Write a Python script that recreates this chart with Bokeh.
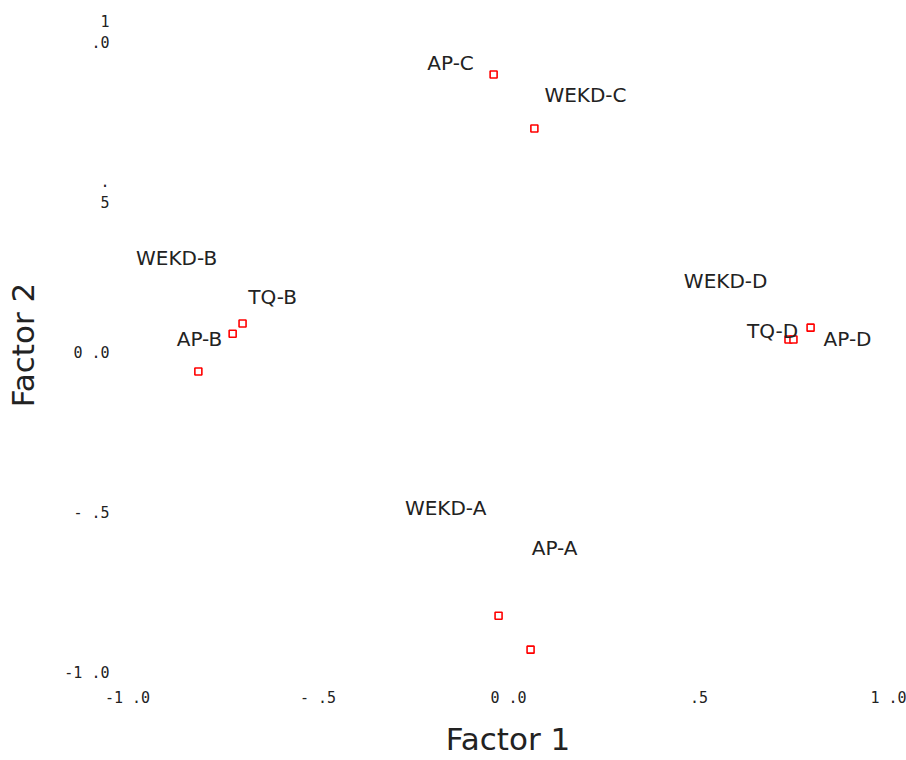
from bokeh.plotting import figure
from bokeh.models import ColumnDataSource, Range1d, FixedTicker
from bokeh.embed import file_html
from bokeh.resources import INLINE
from bokeh.core.properties import value

# Points (Factor 1, Factor 2)
names = ["AP-C", "WEKD-C", "TQ-B", "AP-B", "WEKD-B", "AP-D", "TQ-D", "WEKD-D", "WEKD-A", "AP-A"]
factor1 = [-0.039, 0.068, -0.698, -0.724, -0.814, 0.793, 0.735, 0.748, -0.026, 0.058]
factor2 = [0.869, 0.700, 0.091, 0.059, -0.059, 0.078, 0.041, 0.041, -0.822, -0.928]

# Label positions as they appear in the chart (data units)
label_names = ["AP-C", "WEKD-C", "WEKD-B", "TQ-B", "AP-B", "WEKD-D", "TQ-D", "AP-D", "WEKD-A", "AP-A"]
label_x = [-0.152, 0.202, -0.871, -0.619, -0.811, 0.570, 0.693, 0.890, -0.165, 0.121]
label_y = [0.906, 0.806, 0.297, 0.175, 0.044, 0.225, 0.069, 0.044, -0.484, -0.609]

ticks = [-1.0, -0.5, 0.0, 0.5, 1.0]
x_tick_labels = ["-1 .0", "- .5", "0 .0", ".5", "1 .0"]
y_tick_labels = ["-1 .0", "- .5", "0 .0", ".\n5", "1\n.0"]

FONT = "DejaVu Sans"
MONO = "DejaVu Sans Mono"

p = figure(width=906, height=760, output_backend="svg", toolbar_location=None,
           x_range=Range1d(-1.0315, 1.029), y_range=Range1d(-1.04, 1.0875),
           min_border_left=115, min_border_right=6, min_border_top=4, min_border_bottom=75)
p.outline_line_color = None
p.grid.visible = False
p.background_fill_color = "white"

for ax, labels, name in ((p.xaxis[0], x_tick_labels, "Factor 1"), (p.yaxis[0], y_tick_labels, "Factor 2")):
    ax.ticker = FixedTicker(ticks=ticks, minor_ticks=[])
    ax.major_label_overrides = {t: l for t, l in zip(ticks, labels)}
    ax.axis_line_color = None
    ax.major_tick_line_color = None
    ax.minor_tick_line_color = None
    ax.major_tick_out = 0
    ax.major_tick_in = 0
    ax.major_label_text_font = MONO
    ax.major_label_text_font_size = "15px"
    ax.major_label_text_color = "#222222"
    ax.axis_label = name
    ax.axis_label_text_font = FONT
    ax.axis_label_text_font_size = "31px"
    ax.axis_label_text_font_style = "normal"
    ax.axis_label_text_color = "#222222"

p.xaxis.major_label_standoff = 3
p.xaxis.axis_label_standoff = 11
p.yaxis.major_label_standoff = 6
p.yaxis.major_label_orientation = "horizontal"
p.yaxis.axis_label_standoff = 20

src = ColumnDataSource(dict(x=factor1, y=factor2, name=names))
p.scatter("x", "y", source=src, marker="square", size=7, fill_color="white",
          line_color="#ff0000", line_width=1.6)

lsrc = ColumnDataSource(dict(x=label_x, y=label_y, text=label_names))
p.text("x", "y", text="text", source=lsrc, text_font=value(FONT), text_font_size="20px",
       text_align="center", text_baseline="middle", text_color="#222222")

open("out.html", "w").write(file_html(p, INLINE))
